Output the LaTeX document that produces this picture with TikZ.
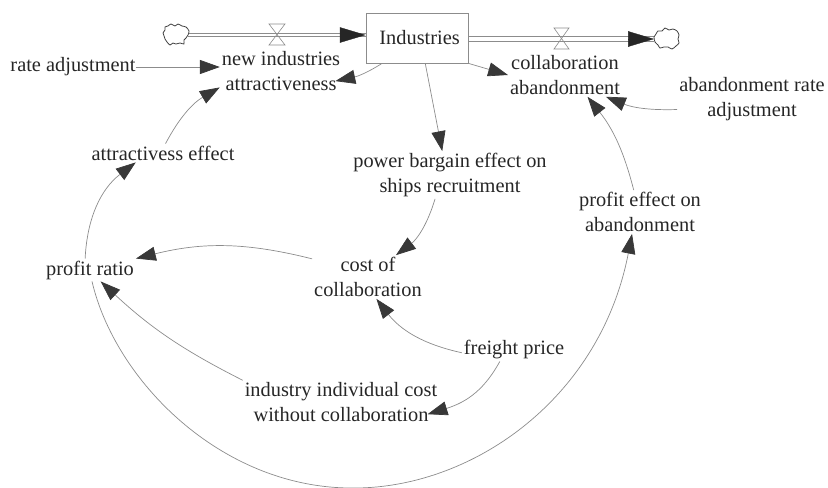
\documentclass[tikz,border=0pt]{standalone}
\usepackage{fontspec}
\setmainfont{Liberation Serif}
\usetikzlibrary{arrows.meta}
\definecolor{linegray}{gray}{0.55}
\definecolor{tipgray}{gray}{0.22}
\tikzset{
	varname/.style={align=center,inner sep=1pt,font=\fontsize{11.6}{14.2}\selectfont,text=black!85},
	link/.style={draw=linegray,line width=.4pt,-{Triangle[length=11.3pt,width=8pt,fill=tipgray,color=tipgray]}},
	pipeline/.style={draw=linegray,line width=.4pt},
	pipetip/.style={-{Triangle[length=14.7pt,width=8.8pt,fill=black!85,color=black!85]},draw=black!85,line width=.2pt},
	valve/.style={draw=linegray,line width=.35pt},
	cloudy/.style={draw=black!75,line width=.45pt,fill=white}
}
\begin{document}
\begin{tikzpicture}[x=0.02cm,y=-0.02cm]
	\useasboundingbox (0,0) rectangle (828,487);
	% stock
	\node[draw=linegray,line width=.4pt,minimum width=102*0.02cm,minimum height=50*0.02cm,inner sep=0pt,font=\fontsize{11.6}{14}\selectfont,text=black!85] (industries) at (417,38) {\hspace*{3pt}Industries};
	% flows and clouds
	\coordinate (sourcecloud) at (188,35);
	\coordinate (sinkcloud) at (654,39);
	\coordinate (sourcetip) at (341,35);
	\coordinate (sinktip) at (628,39);
	\foreach \dy in {-1,1} {
		\draw[pipeline] ([yshift=\dy pt]sourcecloud) -- ([yshift=\dy pt]industries.west |- sourcecloud);
		\draw[pipeline] ([yshift=1.4*\dy pt]industries.east |- sinkcloud) -- ([yshift=1.4*\dy pt]sinkcloud);
	}
	\draw[pipetip] (sourcetip) -- (industries.west |- sourcetip);
	\draw[pipetip] (sinktip) -- (sinkcloud);
	\draw[cloudy] plot[smooth cycle,tension=.5] coordinates{(163,33) (165,30) (165,27) (168,26) (171,24) (175,26) (178,24) (182,26) (186,27) (189,31) (188,35) (186,38) (184,40) (184,44) (180,43) (176,44) (173,43) (170,45) (167,42) (165,39) (164,36)};
	\draw[cloudy] plot[smooth cycle,tension=.5] coordinates{(654,37) (656,34) (658,31) (662,31) (665,28) (669,30) (673,29) (677,31) (679,35) (678,39) (679,43) (676,46) (672,49) (668,47) (664,47) (660,48) (658,45) (655,42)};
	\draw[valve] (269,24) -- (285,24) -- (269,45) -- (285,45) -- cycle;
	\draw[valve] (554,28) -- (569,28) -- (554,49) -- (569,49) -- cycle;
	% variables
	\node[varname] (newind) at (281,71) {new industries\\attractiveness};
	\node[varname] (collab) at (565,75) {collaboration\\abandonment};
	\node[varname] (rateadj) at (73,67) {rate adjustment};
	\node[varname] (abandadj) at (752,99) {abandonment rate\\adjustment};
	\node[varname] (attreff) at (163,153) {attractivess effect};
	\node[varname] (bargain) at (450,175) {power bargain effect on\\ships recruitment};
	\node[varname] (profeff) at (640,212) {profit effect on\\abandonment};
	\node[varname] (profit) at (90,270) {profit ratio};
	\node[varname] (cost) at (368,277) {cost of\\collaboration};
	\node[varname] (freight) at (514,350) {freight price};
	\node[varname] (indcost) at (341,402) {industry individual cost\\without collaboration};
	% links
	\draw[link,shorten <=-1pt] (rateadj) -- (newind.west |- rateadj);
	\draw[link] (attreff.75) to[bend left=16] (newind.-165);
	\draw[link,shorten >=-4pt] (industries.-144.5) to[bend left=10] (newind.-8);
	\draw[link] (industries.south east) -- (collab.west);
	\draw[link] (industries.-72) -- (bargain.108);
	\draw[link] (abandadj.-172) to[bend left=12] (collab.-28);
	\draw[link] (profeff.106) to[bend right=12] (collab.-44);
	\draw[link] (bargain.-122) to[bend left=18] (cost.38);
	\draw[link] (cost.162) to[bend right=14] (profit.north east);
	\draw[link] (profit.113) to[bend left=25] (attreff.-161);
	\draw[link] (indcost.north west) to[bend left=8] (profit.-47);
	\draw[link] (freight.-177) to[bend left=20] (cost.-69);
	\draw[link,shorten >=-7pt] (freight.-141) to[bend left=22] (indcost.-5);
	\draw[link] (profit.-80) .. controls (115,380) and (220,487) .. (350,488) .. controls (470,490) and (600,400) .. (profeff.-110);
\end{tikzpicture}
\end{document}
